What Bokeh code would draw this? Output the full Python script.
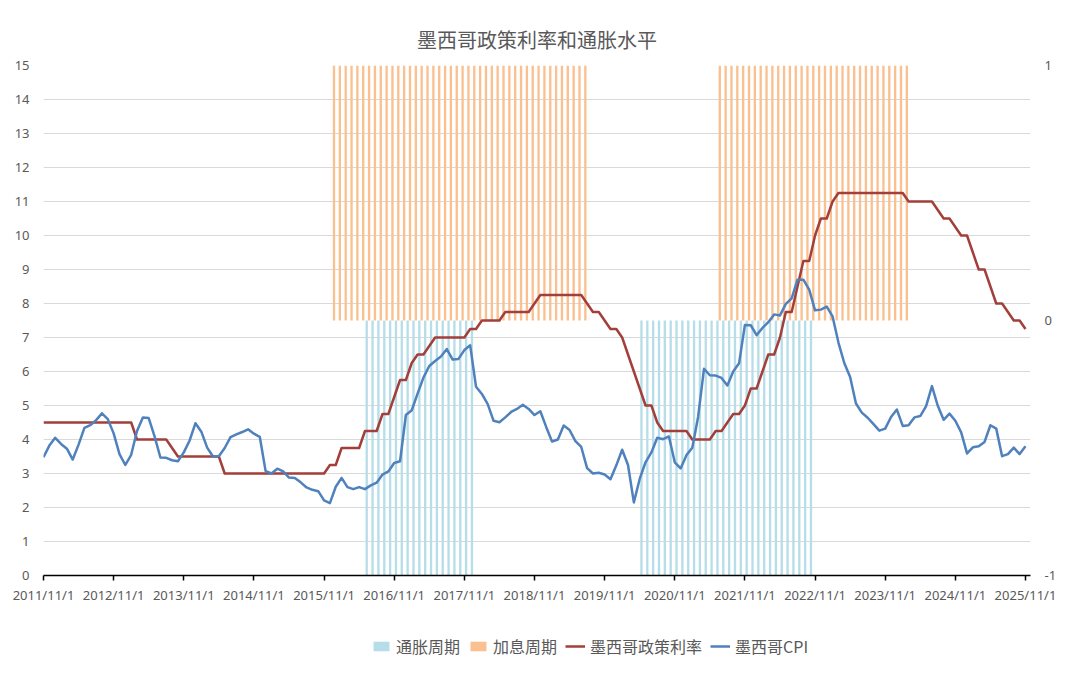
from bokeh.plotting import figure
from bokeh.models import Range1d, LinearAxis, FixedTicker, Legend, LegendItem, ColumnDataSource
from bokeh.transform import dodge
from bokeh.layouts import column
from bokeh.embed import file_html
from bokeh.resources import INLINE

# ---------------- data ----------------
start_year, start_month = 2011, 11
n_months = 169  # 2011/11 .. 2025/11

cpi_2011 = [3.48, 3.82]
cpi_2012 = [4.05, 3.87, 3.73, 3.41, 3.85, 4.34, 4.42, 4.57, 4.77, 4.60, 4.18, 3.57]
cpi_2013 = [3.25, 3.55, 4.25, 4.65, 4.63, 4.09, 3.47, 3.46, 3.39, 3.36, 3.62, 3.97]
cpi_2014 = [4.48, 4.23, 3.76, 3.50, 3.51, 3.75, 4.07, 4.15, 4.22, 4.30, 4.17, 4.08]
cpi_2015 = [3.07, 3.00, 3.14, 3.06, 2.88, 2.87, 2.74, 2.59, 2.52, 2.48, 2.21, 2.13]
cpi_2016 = [2.61, 2.87, 2.60, 2.54, 2.60, 2.54, 2.65, 2.73, 2.97, 3.06, 3.31, 3.36]
cpi_2017 = [4.72, 4.86, 5.35, 5.82, 6.16, 6.31, 6.44, 6.66, 6.35, 6.37, 6.63, 6.77]
cpi_2018 = [5.55, 5.34, 5.04, 4.55, 4.51, 4.65, 4.81, 4.90, 5.02, 4.90, 4.72, 4.83]
cpi_2019 = [4.37, 3.94, 4.00, 4.41, 4.28, 3.95, 3.78, 3.16, 3.00, 3.02, 2.97, 2.83]
cpi_2020 = [3.24, 3.70, 3.25, 2.15, 2.84, 3.33, 3.62, 4.05, 4.01, 4.09, 3.33, 3.15]
cpi_2021 = [3.54, 3.76, 4.67, 6.08, 5.89, 5.88, 5.81, 5.59, 6.00, 6.24, 7.37, 7.36]
cpi_2022 = [7.07, 7.28, 7.45, 7.68, 7.65, 7.99, 8.15, 8.70, 8.70, 8.41, 7.80, 7.82]
cpi_2023 = [7.91, 7.62, 6.85, 6.25, 5.84, 5.06, 4.79, 4.64, 4.45, 4.26, 4.32, 4.66]
cpi_2024 = [4.88, 4.40, 4.42, 4.65, 4.69, 4.98, 5.57, 4.99, 4.58, 4.76, 4.55, 4.21]
cpi_2025 = [3.59, 3.77, 3.80, 3.93, 4.42, 4.32, 3.51, 3.57, 3.76, 3.57, 3.80]

rate_2011 = [4.5, 4.5]
rate_2012 = [4.5] * 12
rate_2013 = [4.5, 4.5, 4.0, 4.0, 4.0, 4.0, 4.0, 4.0, 3.75, 3.5, 3.5, 3.5]
rate_2014 = [3.5, 3.5, 3.5, 3.5, 3.5, 3.0, 3.0, 3.0, 3.0, 3.0, 3.0, 3.0]
rate_2015 = [3.0, 3.0, 3.0, 3.0, 3.0, 3.0, 3.0, 3.0, 3.0, 3.0, 3.0, 3.25]
rate_2016 = [3.25, 3.75, 3.75, 3.75, 3.75, 4.25, 4.25, 4.25, 4.75, 4.75, 5.25, 5.75]
rate_2017 = [5.75, 6.25, 6.5, 6.5, 6.75, 7.0, 7.0, 7.0, 7.0, 7.0, 7.0, 7.25]
rate_2018 = [7.25, 7.5, 7.5, 7.5, 7.5, 7.75, 7.75, 7.75, 7.75, 7.75, 8.0, 8.25]
rate_2019 = [8.25, 8.25, 8.25, 8.25, 8.25, 8.25, 8.25, 8.0, 7.75, 7.75, 7.5, 7.25]
rate_2020 = [7.25, 7.0, 6.5, 6.0, 5.5, 5.0, 5.0, 4.5, 4.25, 4.25, 4.25, 4.25]
rate_2021 = [4.25, 4.0, 4.0, 4.0, 4.0, 4.25, 4.25, 4.5, 4.75, 4.75, 5.0, 5.5]
rate_2022 = [5.5, 6.0, 6.5, 6.5, 7.0, 7.75, 7.75, 8.5, 9.25, 9.25, 10.0, 10.5]
rate_2023 = [10.5, 11.0, 11.25, 11.25, 11.25, 11.25, 11.25, 11.25, 11.25, 11.25, 11.25, 11.25]
rate_2024 = [11.25, 11.25, 11.0, 11.0, 11.0, 11.0, 11.0, 10.75, 10.5, 10.5, 10.25, 10.0]
rate_2025 = [10.0, 9.5, 9.0, 9.0, 8.5, 8.0, 8.0, 7.75, 7.5, 7.5, 7.25]

hike_periods = [("2015/12", "2019/07"), ("2021/06", "2024/02")]
inflation_periods = [("2016/06", "2017/12"), ("2020/05", "2022/10")]

x_tick_labels = ["2011/11/1", "2012/11/1", "2013/11/1", "2014/11/1", "2015/11/1",
                 "2016/11/1", "2017/11/1", "2018/11/1", "2019/11/1", "2020/11/1",
                 "2021/11/1", "2022/11/1", "2023/11/1", "2024/11/1", "2025/11/1"]
left_ticks = list(range(0, 16))
right_ticks = [-1, 0, 1]
right_tick_labels = ["-1", "0", "1"]

title_text = "墨西哥政策利率和通胀水平"
name_infl = "通胀周期"
name_hike = "加息周期"
name_rate = "墨西哥政策利率"
name_cpi = "墨西哥CPI"

# ---------------- build ----------------
cpi = (cpi_2011 + cpi_2012 + cpi_2013 + cpi_2014 + cpi_2015 + cpi_2016 + cpi_2017 +
       cpi_2018 + cpi_2019 + cpi_2020 + cpi_2021 + cpi_2022 + cpi_2023 + cpi_2024 + cpi_2025)
rate = (rate_2011 + rate_2012 + rate_2013 + rate_2014 + rate_2015 + rate_2016 + rate_2017 +
        rate_2018 + rate_2019 + rate_2020 + rate_2021 + rate_2022 + rate_2023 + rate_2024 + rate_2025)

months = []
y, m = start_year, start_month
for _ in range(n_months):
    months.append(f"{y}/{m:02d}")
    m += 1
    if m > 12:
        m = 1
        y += 1
idx = {mm: i for i, mm in enumerate(months)}


def period_bars(periods, val):
    xs_, vs_ = [], []
    for a, b in periods:
        for i in range(idx[a], idx[b] + 1):
            xs_.append(i)
            vs_.append(val)
    return ColumnDataSource(dict(x=xs_, v=vs_))


src = ColumnDataSource(dict(x=list(range(n_months)), cpi=cpi, rate=rate))
hike_src = period_bars(hike_periods, 1.0)
infl_src = period_bars(inflation_periods, -1.0)

GRAY = "#595959"
FONT = "Noto Sans"
CJK = "Noto Sans CJK SC"
C_INFL, C_HIKE, C_RATE, C_CPI = "#B7DEE8", "#FAC090", "#A33F3A", "#4F81BD"

W, H = 1064, 610
p = figure(width=W, height=H, output_backend="svg", toolbar_location=None,
           x_range=Range1d(0, 168.86), y_range=Range1d(0, 15),
           min_border_left=43, min_border_right=W - 1030, min_border_top=65,
           min_border_bottom=H - 575)
p.extra_y_ranges = {"right": Range1d(-1, 1)}
p.outline_line_color = None
p.background_fill_color = "white"

p.title.text = title_text
p.title.align = "center"
p.title.text_font = CJK
p.title.text_font_size = "20px"
p.title.text_font_style = "normal"
p.title.text_color = GRAY
p.title.standoff = 23

p.vbar(x=dodge("x", 0.3), top="v", bottom=0, width=0.4, source=infl_src,
       y_range_name="right", fill_color=C_INFL, line_color=None)
p.vbar(x=dodge("x", 0.7), top="v", bottom=0, width=0.4, source=hike_src,
       y_range_name="right", fill_color=C_HIKE, line_color=None)
p.line("x", "rate", source=src, line_color=C_RATE, line_width=2.5, line_join="round")
p.line("x", "cpi", source=src, line_color=C_CPI, line_width=2.5, line_join="round")

# axes
xa = p.xaxis[0]
xa.ticker = FixedTicker(ticks=[12 * i for i in range(len(x_tick_labels))])
xa.major_label_overrides = {12 * i: lab for i, lab in enumerate(x_tick_labels)}
xa.axis_line_color = "black"
xa.axis_line_width = 1.5
xa.major_tick_line_color = "black"
xa.major_tick_line_width = 1.5
xa.major_tick_in = 0
xa.major_tick_out = 5
xa.minor_tick_line_color = None
xa.major_label_text_font = FONT
xa.major_label_text_font_size = "13px"
xa.major_label_text_color = GRAY
xa.major_label_standoff = 5

ya = p.yaxis[0]
ya.ticker = FixedTicker(ticks=left_ticks)
ya.axis_line_color = None
ya.major_tick_line_color = None
ya.minor_tick_line_color = None
ya.major_label_text_font = FONT
ya.major_label_text_font_size = "13px"
ya.major_label_text_color = GRAY
ya.major_label_standoff = 8

ra = LinearAxis(y_range_name="right", ticker=FixedTicker(ticks=right_ticks))
ra.major_label_overrides = dict(zip(right_ticks, right_tick_labels))
ra.axis_line_color = None
ra.major_tick_line_color = None
ra.minor_tick_line_color = None
ra.major_label_text_font = FONT
ra.major_label_text_font_size = "13px"
ra.major_label_text_color = GRAY
ra.major_label_standoff = 8
p.add_layout(ra, "right")

p.xgrid.visible = False
p.ygrid.grid_line_color = "#D9D9D9"
p.ygrid.grid_line_width = 1

# ---------- legend strip (separate small figure below) ----------
LH = 58
# ranges chosen so that the proxy renderers (same data) stay out of view
p2 = figure(width=W, height=LH, output_backend="svg", toolbar_location=None,
            x_range=Range1d(0, 1), y_range=Range1d(100, 101),
            min_border_left=43, min_border_right=W - 1030, min_border_top=0, min_border_bottom=0,
            x_axis_type=None, y_axis_type=None)
p2.outline_line_color = None
p2.xgrid.visible = False
p2.ygrid.visible = False
g_infl = p2.vbar(x="x", top="v", bottom=0, width=0.4, source=infl_src, fill_color=C_INFL, line_color=None)
g_hike = p2.vbar(x="x", top="v", bottom=0, width=0.4, source=hike_src, fill_color=C_HIKE, line_color=None)
g_rate = p2.line("x", "rate", source=src, line_color=C_RATE, line_width=2.5)
g_cpi = p2.line("x", "cpi", source=src, line_color=C_CPI, line_width=2.5)

legend = Legend(items=[LegendItem(label=name_infl, renderers=[g_infl]),
                       LegendItem(label=name_hike, renderers=[g_hike]),
                       LegendItem(label=name_rate, renderers=[g_rate]),
                       LegendItem(label=name_cpi, renderers=[g_cpi])],
                orientation="horizontal", location=(328, 10))
legend.label_text_font = CJK
legend.label_text_font_size = "16px"
legend.label_text_color = GRAY
legend.glyph_width = 20
legend.glyph_height = 12
legend.label_standoff = 5
legend.spacing = 8
legend.padding = 0
legend.margin = 0
legend.border_line_color = None
legend.background_fill_alpha = 0
p2.add_layout(legend, "center")

open("out.html", "w").write(file_html(column(p, p2, spacing=0), INLINE))
